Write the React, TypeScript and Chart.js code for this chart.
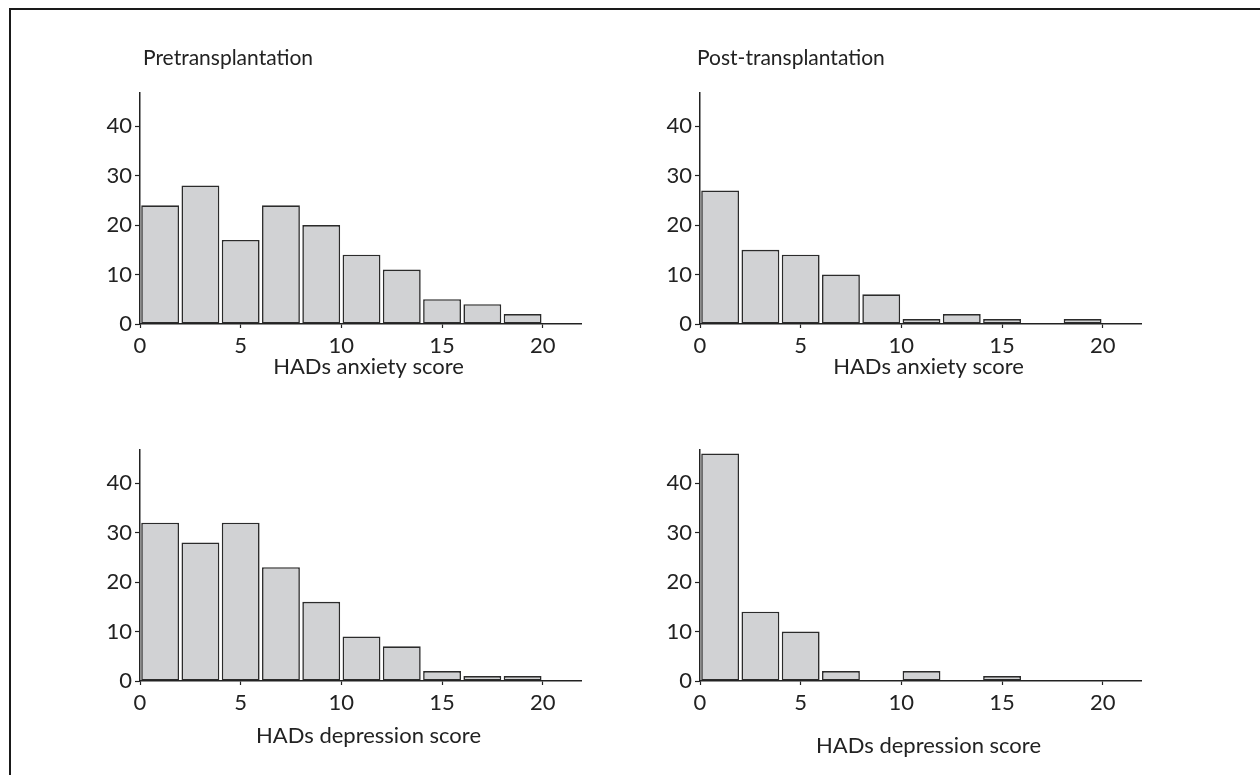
import { useEffect, useRef } from "react";
import { Chart, registerables } from "chart.js";

Chart.register(...registerables);

// Histogram bins are two score points wide; bars sit on the bin centres.
const binCentres = [1, 3, 5, 7, 9, 11, 13, 15, 17, 19];
const preAnxiety = [24, 28, 17, 24, 20, 14, 11, 5, 4, 2];
const postAnxiety = [27, 15, 14, 10, 6, 1, 2, 1, 0, 1];
const preDepression = [32, 28, 32, 23, 16, 9, 7, 2, 1, 1];
const postDepression = [46, 14, 10, 2, 0, 2, 0, 1, 0, 0];

const xTickValues = [0, 5, 10, 15, 20];
const yTickValues = [0, 10, 20, 30, 40];
const X_MAX = 21.9;
const Y_MAX = 46.7;

const INK = "#222222";
const BAR_FILL = "#d1d2d4";
const BAR_EDGE = "#2b2b2b";
const FONT_FAMILY = "Lato, 'Open Sans', sans-serif";
const FONT_SIZE = 22;
const HEADING_SIZE = 21;

const Y_AXIS_W = 60;
const X_AXIS_H = 80;

type Rect = { left: number; top: number; width: number; height: number };
type Panel = {
  key: string;
  title: string;
  xTitle: string;
  values: number[];
  canvas: Rect;
  area: { left: number; top: number; right: number; bottom: number };
  xTitleGap: number;
  titleDx: number;
};

const panels: Panel[] = [
  {
    key: "pre-anx",
    title: "Pretransplantation",
    xTitle: "HADs anxiety score",
    values: preAnxiety,
    canvas: { left: 0, top: 0, width: 630, height: 410 },
    area: { left: 140, top: 93, right: 581, bottom: 324 },
    xTitleGap: 43,
    titleDx: 3,
  },
  {
    key: "post-anx",
    title: "Post-transplantation",
    xTitle: "HADs anxiety score",
    values: postAnxiety,
    canvas: { left: 630, top: 0, width: 630, height: 410 },
    area: { left: 700, top: 93, right: 1141, bottom: 324 },
    xTitleGap: 43,
    titleDx: -3,
  },
  {
    key: "pre-dep",
    title: "",
    xTitle: "HADs depression score",
    values: preDepression,
    canvas: { left: 0, top: 400, width: 630, height: 375 },
    area: { left: 140, top: 450, right: 581, bottom: 681 },
    xTitleGap: 55,
    titleDx: 0,
  },
  {
    key: "post-dep",
    title: "",
    xTitle: "HADs depression score",
    values: postDepression,
    canvas: { left: 630, top: 400, width: 630, height: 375 },
    area: { left: 700, top: 450, right: 1141, bottom: 681 },
    xTitleGap: 65,
    titleDx: 0,
  },
];

// Draws the panel heading above the plot area and the score caption below the x axis.
const panelText = {
  id: "panelText",
  afterDraw(chart: any, _args: any, opts: any) {
    const { ctx, chartArea } = chart;
    ctx.save();
    ctx.fillStyle = INK;
    if (opts.heading) {
      ctx.font = `${HEADING_SIZE}px ${FONT_FAMILY}`;
      ctx.textBaseline = "alphabetic";
      ctx.textAlign = "left";
      ctx.fillText(opts.heading, chartArea.left + opts.dx, chartArea.top - 28);
    }
    if (opts.caption) {
      ctx.font = `${FONT_SIZE}px ${FONT_FAMILY}`;
      ctx.textBaseline = "middle";
      ctx.textAlign = "center";
      const cx = (chartArea.left + chartArea.right) / 2 + 8;
      ctx.fillText(opts.caption, cx, chartArea.bottom + opts.gap);
    }
    ctx.restore();
  },
};

function Histogram({ panel }: { panel: Panel }) {
  const ref = useRef<HTMLCanvasElement | null>(null);

  useEffect(() => {
    if (!ref.current) return;
    const c = panel.canvas;
    const a = panel.area;
    const padLeft = a.left - c.left - Y_AXIS_W;
    const padRight = c.left + c.width - a.right;
    const padTop = a.top - c.top;
    const padBottom = c.top + c.height - a.bottom - X_AXIS_H;
    const font = { family: FONT_FAMILY, size: FONT_SIZE };

    const chart = new Chart(ref.current, {
      type: "bar",
      data: {
        datasets: [
          {
            data: binCentres.map((x, i) => ({ x, y: panel.values[i] })),
            backgroundColor: BAR_FILL,
            borderColor: BAR_EDGE,
            borderWidth: 1.6,
            borderSkipped: false,
            barPercentage: 0.94,
            categoryPercentage: 1,
          },
        ],
      },
      plugins: [panelText],
      options: {
        animation: false,
        responsive: false,
        devicePixelRatio: 1,
        layout: {
          padding: { left: padLeft, right: padRight, top: padTop, bottom: padBottom },
        },
        plugins: {
          legend: { display: false },
          tooltip: { enabled: false },
          panelText: {
            heading: panel.title,
            dx: panel.titleDx,
            caption: panel.xTitle,
            gap: panel.xTitleGap,
          },
        } as any,
        scales: {
          x: {
            type: "linear",
            min: 0,
            max: X_MAX,
            offset: false,
            afterBuildTicks: (s: any) => {
              s.ticks = xTickValues.map((value) => ({ value }));
            },
            afterFit: (s: any) => {
              s.height = X_AXIS_H;
            },
            grid: {
              display: true,
              drawOnChartArea: false,
              drawTicks: true,
              tickLength: 4,
              tickWidth: 1.2,
              tickColor: INK,
              offset: false,
            },
            border: { display: true, color: INK, width: 1.5 },
            ticks: {
              font,
              color: INK,
              padding: 5,
              maxRotation: 0,
              autoSkip: false,
            },
          },
          y: {
            type: "linear",
            min: 0,
            max: Y_MAX,
            afterBuildTicks: (s: any) => {
              s.ticks = yTickValues.map((value) => ({ value }));
            },
            afterFit: (s: any) => {
              s.width = Y_AXIS_W;
            },
            grid: {
              display: true,
              drawOnChartArea: false,
              drawTicks: true,
              tickLength: 5,
              tickWidth: 1.2,
              tickColor: INK,
            },
            border: { display: true, color: INK, width: 1.5 },
            ticks: { font, color: INK, padding: 3 },
          },
        },
      } as any,
    });
    return () => chart.destroy();
  }, [panel]);

  const c = panel.canvas;
  return (
    <canvas
      ref={ref}
      width={c.width}
      height={c.height}
      style={{
        position: "absolute",
        left: c.left,
        top: c.top,
        width: c.width,
        height: c.height,
      }}
    />
  );
}

export default function App() {
  return (
    <div
      style={{
        position: "absolute",
        left: 0,
        top: 0,
        width: 1260,
        height: 775,
        overflow: "hidden",
        background: "#ffffff",
      }}
    >
      <div
        style={{
          position: "absolute",
          left: 9,
          top: 8,
          width: 1300,
          height: 820,
          border: "2px solid #1a1a1a",
          boxSizing: "border-box",
        }}
      />
      {panels.map((p) => (
        <Histogram key={p.key} panel={p} />
      ))}
    </div>
  );
}
